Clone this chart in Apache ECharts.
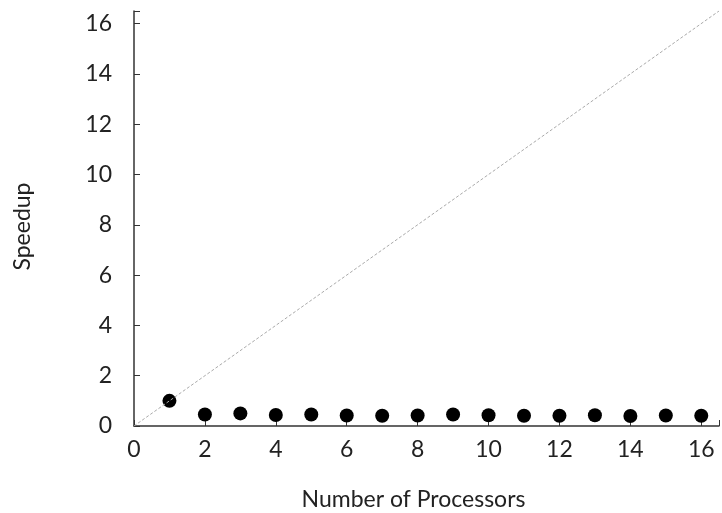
<!DOCTYPE html>
<html><head><meta charset="utf-8">
<script src="https://cdn.jsdelivr.net/npm/echarts@6/dist/echarts.min.js"></script>
<style>html,body{margin:0;padding:0;background:#fff}#c{width:722px;height:513px}</style>
</head><body><div id="c"></div>
<script>
const processors = [1,2,3,4,5,6,7,8,9,10,11,12,13,14,15,16];
const speedup = [1.0,0.46,0.5,0.44,0.46,0.42,0.41,0.42,0.46,0.43,0.41,0.41,0.43,0.40,0.42,0.41];
const idealLine = [[0,0],[16.5,16.5]];
const xLabel = 'Number of Processors';
const yLabel = 'Speedup';
const font = 'Lato';
const chart = echarts.init(document.getElementById('c'));
chart.setOption({
  animation:false,
  grid:{left:134,right:3,top:11,bottom:87,containLabel:false,outerBoundsMode:'none'},
  xAxis:{type:'value',min:0,max:16.5,interval:2,
    name:xLabel,nameLocation:'middle',nameGap:62,
    nameTextStyle:{fontFamily:font,fontSize:23,color:'#222',padding:[0,26,0,0]},
    axisLine:{lineStyle:{color:'#333',width:1.5}},
    axisTick:{inside:true,length:6,lineStyle:{color:'#333'}},
    axisLabel:{fontFamily:font,fontSize:23,color:'#222',margin:12,
      formatter:v=>v%2===0?String(v):''},
    splitLine:{show:false}},
  yAxis:{type:'value',min:0,max:16.5,interval:2,
    name:yLabel,nameLocation:'middle',nameGap:100,
    nameTextStyle:{fontFamily:font,fontSize:23,color:'#222',padding:[0,16,0,0]},
    axisLine:{show:true,lineStyle:{color:'#333',width:1.5}},
    axisTick:{show:true,inside:true,length:6,lineStyle:{color:'#333'}},
    axisLabel:{fontFamily:font,fontSize:23,color:'#222',margin:22,
      formatter:v=>v%2===0?String(v):''},
    splitLine:{show:false}},
  series:[
    {type:'line',data:idealLine,symbol:'none',silent:true,
      lineStyle:{color:'#aaa',width:1,type:[3,2]}},
    {type:'scatter',data:processors.map((p,i)=>[p,speedup[i]]),
      symbolSize:14,itemStyle:{color:'#000',opacity:1}}
  ]
});
</script></body></html>
